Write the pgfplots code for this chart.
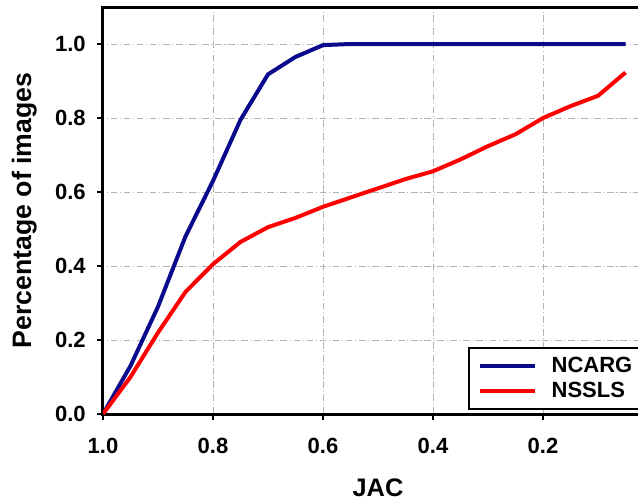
\documentclass[border=0pt]{standalone}
\usepackage{fontspec}
\setmainfont{Liberation Sans}
\usepackage{pgfplots}
\pgfplotsset{compat=1.18}
\definecolor{ncarg}{RGB}{10,10,140}
\definecolor{nssls}{RGB}{255,0,0}
\begin{document}
\begin{tikzpicture}
\begin{axis}[
  at={(0,0)}, anchor=south west,
  scale only axis, width=412.5pt, height=305.25pt,
  x dir=reverse, xmin=0, xmax=1, ymin=0, ymax=1.1,
  xtick={1,0.8,0.6,0.4,0.2},
  ytick={0,0.2,0.4,0.6,0.8,1.0},
  xtick pos=bottom, ytick pos=left,
  tick align=outside, major tick length=4.5pt,
  tick style={black, line width=1pt},
  axis line style={line width=2.25pt},
  grid=major,
  major grid style={draw=gray!60, line width=0.6pt, dash pattern=on 5pt off 2pt on 0.8pt off 2pt},
  ticklabel style={font=\fontsize{16.5}{19}\selectfont\bfseries},
  xticklabel style={yshift=-10pt},
  yticklabel style={xshift=-5pt},
  /pgf/number format/.cd, fixed, fixed zerofill, precision=1, assume math mode=true,
  /pgfplots/.cd,
  xlabel={JAC},
  ylabel={Percentage of images},
  every axis x label/.style={at={(rel axis cs:0.5,0)}, yshift=-55.5pt, anchor=center,
    font=\fontsize{19}{22}\selectfont\bfseries},
  every axis y label/.style={at={(rel axis cs:0,0.5)}, xshift=-59pt, rotate=90, anchor=center,
    font=\fontsize{20}{23}\selectfont\bfseries},
  legend style={at={(0.6636,0.0098)}, anchor=south west, draw=black, line width=1.5pt,
    font=\fontsize{16.5}{20}\selectfont\bfseries, inner xsep=7pt, inner ysep=5pt,
    row sep=2pt, cells={anchor=west}},
  legend image code/.code={\draw[#1, line width=3pt] (0pt,0pt) -- (41pt,0pt);
    \path (50pt,0pt);},
]
\addplot[ncarg, line width=3pt] coordinates {
  (1.00,0) (0.95,0.13) (0.90,0.29) (0.85,0.48) (0.80,0.63) (0.75,0.795)
  (0.70,0.918) (0.65,0.965) (0.60,0.997) (0.55,1.0) (0.50,1.0) (0.45,1.0)
  (0.40,1.0) (0.35,1.0) (0.30,1.0) (0.25,1.0) (0.20,1.0) (0.15,1.0)
  (0.10,1.0) (0.05,1.0)
};
\addplot[nssls, line width=3pt] coordinates {
  (1.00,0) (0.95,0.10) (0.90,0.22) (0.85,0.33) (0.80,0.405) (0.75,0.465)
  (0.70,0.505) (0.65,0.53) (0.60,0.56) (0.55,0.585) (0.50,0.61) (0.45,0.635)
  (0.40,0.656) (0.35,0.688) (0.30,0.724) (0.25,0.756) (0.20,0.80) (0.15,0.832)
  (0.10,0.86) (0.05,0.923)
};
\legend{NCARG, NSSLS}
\end{axis}
\pgfresetboundingbox
\useasboundingbox (-77.25pt,-65.25pt) rectangle (401.25pt,310.5pt);
\end{tikzpicture}
\end{document}
